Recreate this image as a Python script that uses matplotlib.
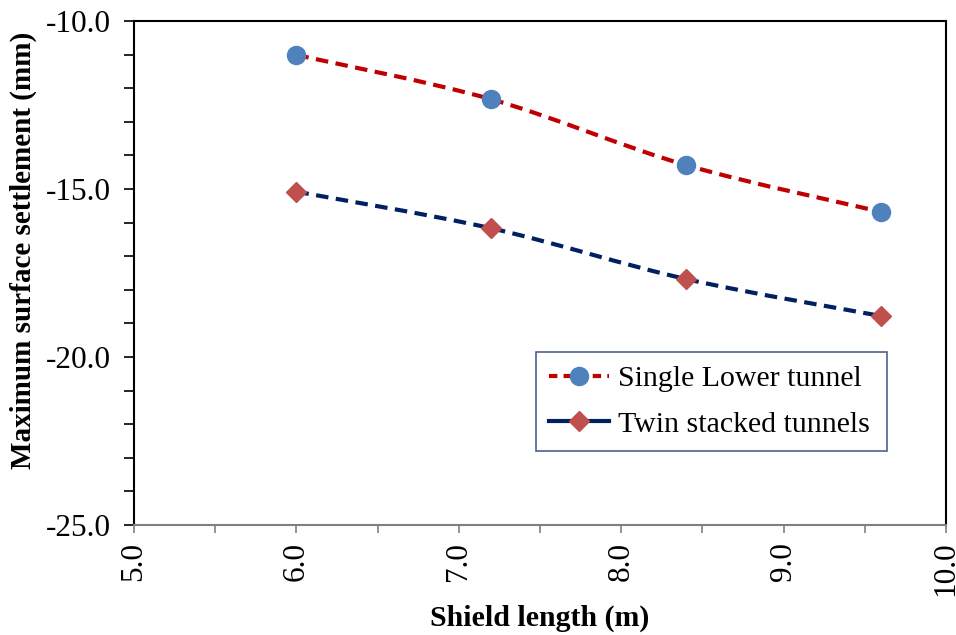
import matplotlib
matplotlib.use("Agg")
import matplotlib.pyplot as plt
from matplotlib.path import Path
from matplotlib.patches import PathPatch
from matplotlib.lines import Line2D
from matplotlib.ticker import MultipleLocator, FormatStrFormatter
import numpy as np

shield_length = [6.0, 7.2, 8.4, 9.6]
single_lower = [-11.01, -12.33, -14.29, -15.68]
twin_stacked = [-15.08, -16.17, -17.68, -18.78]
series_names = ["Single Lower tunnel", "Twin stacked tunnels"]

plt.rcParams['font.family'] = ['Liberation Serif', 'DejaVu Serif']

fig = plt.figure(figsize=(9.56, 6.35), dpi=100)
ax = fig.add_axes([134/956, 1-525/635, (946-134)/956, (525-21)/635])


def smooth_path(xs, ys):
    pts = np.column_stack([xs, ys])
    n = len(pts)
    verts = [pts[0]]
    codes = [Path.MOVETO]
    for i in range(n - 1):
        p0 = pts[i - 1] if i > 0 else pts[i]
        p1 = pts[i]
        p2 = pts[i + 1]
        p3 = pts[i + 2] if i + 2 < n else pts[i + 1]
        c1 = p1 + (p2 - p0) / 6.0
        c2 = p2 - (p3 - p1) / 6.0
        verts += [c1, c2, p2]
        codes += [Path.CURVE4] * 3
    return Path(verts, codes)


dash = (0, (3, 1.8))
for ys, lc, mc, mk, ms in [(single_lower, '#C00000', '#4F81BD', 'o', 13),
                           (twin_stacked, '#002060', '#C0504D', 'D', 10.5)]:
    patch = PathPatch(smooth_path(shield_length, ys), facecolor='none',
                      edgecolor=lc, lw=3, linestyle=dash, zorder=2)
    ax.add_patch(patch)
    ax.plot(shield_length, ys, linestyle='none', marker=mk, markersize=ms,
            color=mc, zorder=3)

ax.set_xlim(5.0, 10.0)
ax.set_ylim(-25.0, -10.0)
ax.xaxis.set_major_locator(MultipleLocator(1.0))
ax.xaxis.set_minor_locator(MultipleLocator(0.5))
ax.yaxis.set_major_locator(MultipleLocator(5.0))
ax.yaxis.set_minor_locator(MultipleLocator(1.0))
ax.xaxis.set_major_formatter(FormatStrFormatter('%.1f'))
ax.yaxis.set_major_formatter(FormatStrFormatter('%.1f'))

ax.tick_params(axis='x', which='both', direction='out', color='#808080',
               length=6, width=1.2)
ax.tick_params(axis='x', which='major', labelsize=22.5, labelrotation=90, pad=6)
ax.tick_params(axis='y', which='both', direction='out', color='black',
               length=7, width=1.2, labelsize=22.5, pad=10)

for s in ['left', 'top', 'right']:
    ax.spines[s].set_color('black')
    ax.spines[s].set_linewidth(1.5)
ax.spines['bottom'].set_color('#808080')
ax.spines['bottom'].set_linewidth(1.5)

ax.set_xlabel('Shield length (m)', fontsize=21.5, fontweight='bold', labelpad=6)
ax.set_ylabel('Maximum surface settlement (mm)', fontsize=21, fontweight='bold')
ax.yaxis.set_label_coords(-0.119, 0.545)

handles = [
    Line2D([], [], color='#C00000', lw=3, linestyle=(0, (2, 1.5)), marker='o',
           markersize=13, markerfacecolor='#4F81BD', markeredgecolor='#4F81BD'),
    Line2D([], [], color='#002060', lw=3, linestyle='-', marker='D',
           markersize=10.5, markerfacecolor='#C0504D', markeredgecolor='#C0504D'),
]
leg = ax.legend(handles, series_names, loc='upper left',
                bbox_to_anchor=((536-134)/812, (525-450)/504, (887-536)/812, (450-352)/504),
                mode='expand', fontsize=21.5, frameon=True, fancybox=False,
                handlelength=2.0, handletextpad=0.3, borderpad=0.45,
                labelspacing=0.62, borderaxespad=0)
leg.get_frame().set_edgecolor('#1F3A7A')
leg.get_frame().set_linewidth(1.2)

fig.savefig('out.png', dpi=100)
